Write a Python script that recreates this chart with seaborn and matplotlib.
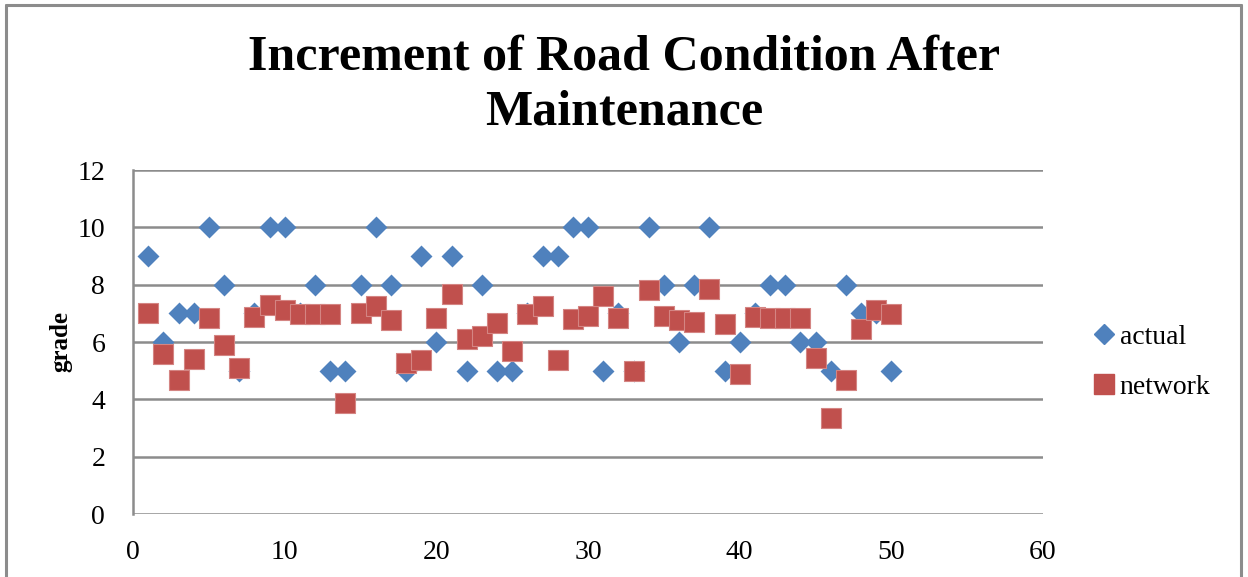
import matplotlib
matplotlib.use("Agg")
import matplotlib.pyplot as plt
from matplotlib.lines import Line2D
import numpy as np
import pandas as pd
import seaborn as sns

# Road sections 1..50 and their grade increment after maintenance
section = list(range(1, 51))
actual = [9, 6, 7, 7, 10, 8, 5, 7, 10, 10,
          7, 8, 5, 5, 8, 10, 8, 5, 9, 6,
          9, 5, 8, 5, 5, 7, 9, 9, 10, 10,
          5, 7, 5, 10, 8, 6, 8, 10, 5, 6,
          7, 8, 8, 6, 6, 5, 8, 7, 7, 5]
network = [7.02, 5.57, 4.67, 5.39, 6.82, 5.90, 5.09, 6.88, 7.28, 7.13,
           6.99, 6.99, 6.99, 3.86, 7.02, 7.25, 6.76, 5.28, 5.37, 6.84,
           7.68, 6.11, 6.20, 6.67, 5.68, 6.99, 7.25, 5.36, 6.81, 6.90,
           7.62, 6.82, 4.99, 7.83, 6.90, 6.76, 6.70, 7.85, 6.64, 4.87,
           6.88, 6.84, 6.84, 6.84, 5.43, 3.36, 4.66, 6.46, 7.11, 6.97]

title = "Increment of Road Condition After\nMaintenance"
y_label = "grade"
x_ticks = [0, 10, 20, 30, 40, 50, 60]
y_ticks = [0, 2, 4, 6, 8, 10, 12]

blue = "#4F81BD"
red = "#C0504D"
grid_gray = "#8C8C8C"

df = pd.DataFrame({"section": section, "actual": actual, "network": network})

sns.set_style("white")
serif = ["Liberation Serif", "DejaVu Serif"]
plt.rcParams["font.family"] = serif
plt.rcParams["text.color"] = "black"
plt.rcParams["axes.labelcolor"] = "black"

fig = plt.figure(figsize=(12.48, 5.77), dpi=100)
ax = fig.add_axes([133 / 1248, 63 / 577, 910 / 1248, 344 / 577])

sns.scatterplot(data=df, x="section", y="actual", ax=ax, marker="D",
                s=125, color=blue, edgecolor=blue, linewidth=0, zorder=3)
sns.scatterplot(data=df, x="section", y="network", ax=ax, marker="s",
                s=210, color=red, edgecolor="#D48583", linewidth=0.8, zorder=4)

ax.set_xlim(0, 60)
ax.set_ylim(0, 12)
ax.set_xticks(x_ticks)
ax.set_yticks(y_ticks)
ax.set_xticklabels([str(t) for t in x_ticks])
ax.set_yticklabels([str(t) for t in y_ticks])
ax.tick_params(axis="both", length=0, labelsize=20, colors="black")
ax.tick_params(axis="x", pad=19)
ax.tick_params(axis="y", pad=20)

ax.grid(axis="y", color=grid_gray, linewidth=1.8)
ax.grid(axis="x", visible=False)
ax.set_axisbelow(True)
for side in ["top", "right", "bottom"]:
    ax.spines[side].set_visible(False)
ax.spines["left"].set_color(grid_gray)
ax.spines["left"].set_linewidth(1.8)

ax.set_xlabel("")
ax.set_ylabel(y_label, fontsize=18, fontweight="bold", labelpad=4)

fig.text(0.5, 1 - 85 / 577, title, ha="center", va="center", fontsize=36,
         fontweight="bold", linespacing=1.28)

handles = [
    Line2D([], [], marker="D", linestyle="none", markersize=10.5,
           markerfacecolor=blue, markeredgecolor=blue, label="actual"),
    Line2D([], [], marker="s", linestyle="none", markersize=14.5,
           markerfacecolor=red, markeredgecolor=red, label="network"),
]
fig.legend(handles=handles, loc="center left", bbox_to_anchor=(1096 / 1248, 1 - 362 / 577),
           frameon=False, fontsize=20, handlelength=0.6, handletextpad=0.25,
           labelspacing=0.9, borderaxespad=0, borderpad=0)

# chart frame
frame_kw = dict(color=grid_gray, linewidth=2.2, transform=fig.transFigure)
fig.add_artist(Line2D([6 / 1248, 6 / 1248], [0, 1 - 5 / 577], **frame_kw))
fig.add_artist(Line2D([6 / 1248, 1241 / 1248], [1 - 5 / 577, 1 - 5 / 577], **frame_kw))
fig.add_artist(Line2D([1241 / 1248, 1241 / 1248], [0, 1 - 5 / 577], **frame_kw))

fig.savefig("out.png", dpi=100)
